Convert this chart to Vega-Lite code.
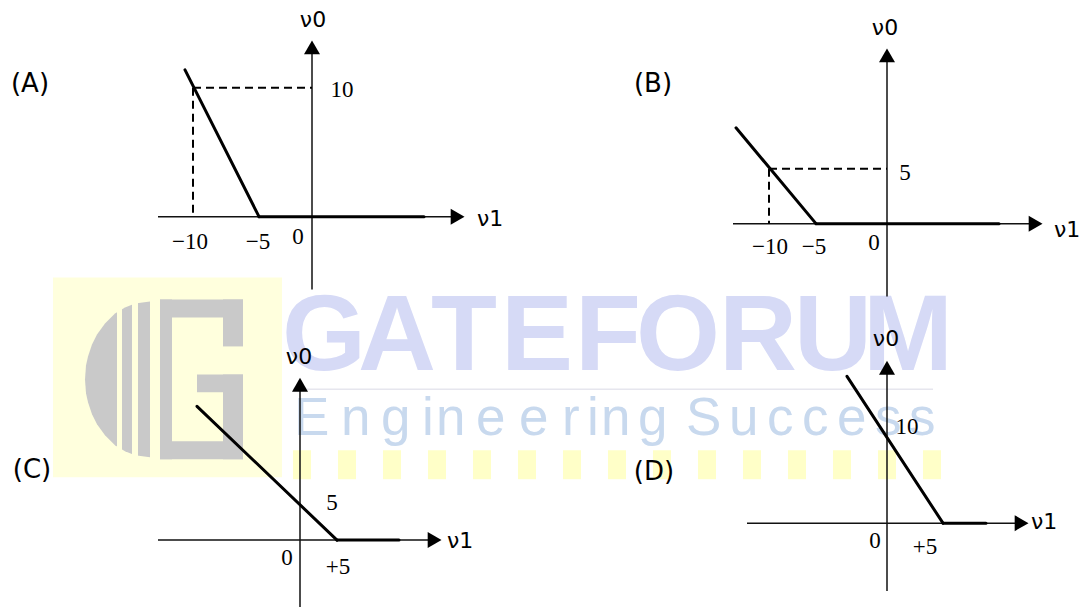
{
  "$schema": "https://vega.github.io/schema/vega-lite/v6.json",
  "width": 1091,
  "height": 608,
  "autosize": {"type": "fit", "contains": "padding"},
  "padding": 0,
  "background": "white",
  "config": {"view": {"stroke": null}},
  "datasets": {
    "bg": [
      {"x": 53, "x2": 282, "y": 278, "y2": 478, "c": "#FFFFDD"},
      {"x": 293, "x2": 311, "y": 451, "y2": 480, "c": "#FFFFC8"},
      {"x": 338, "x2": 356, "y": 451, "y2": 480, "c": "#FFFFC8"},
      {"x": 383, "x2": 401, "y": 451, "y2": 480, "c": "#FFFFC8"},
      {"x": 428, "x2": 446, "y": 451, "y2": 480, "c": "#FFFFC8"},
      {"x": 473, "x2": 491, "y": 451, "y2": 480, "c": "#FFFFC8"},
      {"x": 518, "x2": 536, "y": 451, "y2": 480, "c": "#FFFFC8"},
      {"x": 563, "x2": 581, "y": 451, "y2": 480, "c": "#FFFFC8"},
      {"x": 608, "x2": 626, "y": 451, "y2": 480, "c": "#FFFFC8"},
      {"x": 653, "x2": 671, "y": 451, "y2": 480, "c": "#FFFFC8"},
      {"x": 698, "x2": 716, "y": 451, "y2": 480, "c": "#FFFFC8"},
      {"x": 743, "x2": 761, "y": 451, "y2": 480, "c": "#FFFFC8"},
      {"x": 788, "x2": 806, "y": 451, "y2": 480, "c": "#FFFFC8"},
      {"x": 833, "x2": 851, "y": 451, "y2": 480, "c": "#FFFFC8"},
      {"x": 878, "x2": 896, "y": 451, "y2": 480, "c": "#FFFFC8"},
      {"x": 923, "x2": 941, "y": 451, "y2": 480, "c": "#FFFFC8"}
    ],
    "disc": [
      {"x": 85, "y": 380, "y2": 380},
      {"x": 86, "y": 366, "y2": 394},
      {"x": 88, "y": 357, "y2": 403},
      {"x": 92, "y": 345, "y2": 415},
      {"x": 97, "y": 335, "y2": 425},
      {"x": 105, "y": 324, "y2": 436},
      {"x": 115, "y": 314, "y2": 446},
      {"x": 125, "y": 308, "y2": 452},
      {"x": 135, "y": 304, "y2": 456},
      {"x": 150, "y": 302, "y2": 458}
    ],
    "logo": [
      {"x": 117, "x2": 122, "y": 290, "y2": 470, "c": "#FFFFDD"},
      {"x": 132, "x2": 138, "y": 290, "y2": 470, "c": "#FFFFDD"},
      {"x": 160, "x2": 172, "y": 300, "y2": 460, "c": "#C9C9C9"},
      {"x": 160, "x2": 243, "y": 300, "y2": 318, "c": "#C9C9C9"},
      {"x": 223, "x2": 243, "y": 300, "y2": 347, "c": "#C9C9C9"},
      {"x": 197, "x2": 243, "y": 375, "y2": 393, "c": "#C9C9C9"},
      {"x": 223, "x2": 243, "y": 375, "y2": 460, "c": "#C9C9C9"},
      {"x": 160, "x2": 243, "y": 442, "y2": 460, "c": "#C9C9C9"}
    ],
    "sep": [
      {"x": 293, "y": 390, "x2": 933, "y2": 390}
    ],
    "big": [
      {"x": 324, "y": 371, "t": "G"},
      {"x": 397, "y": 371, "t": "A"},
      {"x": 464, "y": 371, "t": "T"},
      {"x": 537, "y": 371, "t": "E"},
      {"x": 608, "y": 371, "t": "F"},
      {"x": 678, "y": 371, "t": "O"},
      {"x": 758, "y": 371, "t": "R"},
      {"x": 833, "y": 371, "t": "U"},
      {"x": 908, "y": 371, "t": "M"}
    ],
    "eng": [
      {"x": 294, "y": 436, "t": "E"},
      {"x": 341, "y": 436, "t": "n"},
      {"x": 381, "y": 436, "t": "g"},
      {"x": 422, "y": 436, "t": "i"},
      {"x": 436, "y": 436, "t": "n"},
      {"x": 476, "y": 436, "t": "e"},
      {"x": 519, "y": 436, "t": "e"},
      {"x": 562, "y": 436, "t": "r"},
      {"x": 587, "y": 436, "t": "i"},
      {"x": 601, "y": 436, "t": "n"},
      {"x": 638, "y": 436, "t": "g"},
      {"x": 686, "y": 436, "t": "S"},
      {"x": 729, "y": 436, "t": "u"},
      {"x": 767, "y": 436, "t": "c"},
      {"x": 802, "y": 436, "t": "c"},
      {"x": 837, "y": 436, "t": "e"},
      {"x": 875, "y": 436, "t": "s"},
      {"x": 909, "y": 436, "t": "s"}
    ],
    "axes": [
      {"x": 312, "y": 290, "x2": 312, "y2": 50},
      {"x": 158, "y": 217, "x2": 455, "y2": 217},
      {"x": 887, "y": 297, "x2": 887, "y2": 58},
      {"x": 733, "y": 224, "x2": 1033, "y2": 224},
      {"x": 300, "y": 608, "x2": 300, "y2": 388},
      {"x": 158, "y": 541, "x2": 432, "y2": 541},
      {"x": 887, "y": 592, "x2": 887, "y2": 371},
      {"x": 747, "y": 524, "x2": 1019, "y2": 524}
    ],
    "curves": [
      {"x": 185, "y": 70, "x2": 259, "y2": 217},
      {"x": 259, "y": 217, "x2": 424, "y2": 217},
      {"x": 736, "y": 128, "x2": 816, "y2": 224},
      {"x": 816, "y": 224, "x2": 999, "y2": 224},
      {"x": 197, "y": 407, "x2": 337, "y2": 541},
      {"x": 337, "y": 541, "x2": 399, "y2": 541},
      {"x": 847, "y": 377, "x2": 943, "y2": 524},
      {"x": 943, "y": 524, "x2": 986, "y2": 524}
    ],
    "dashes": [
      {"x": 193, "y": 88, "x2": 312, "y2": 88},
      {"x": 193, "y": 88, "x2": 193, "y2": 217},
      {"x": 769, "y": 169, "x2": 887, "y2": 169},
      {"x": 769, "y": 169, "x2": 769, "y2": 224}
    ],
    "up": [
      {"x": 312, "y": 47.4},
      {"x": 887, "y": 55.4},
      {"x": 300, "y": 385.4},
      {"x": 887, "y": 368.4}
    ],
    "right": [
      {"x": 457.6, "y": 217},
      {"x": 1035.6, "y": 224},
      {"x": 434.6, "y": 541},
      {"x": 1021.6, "y": 524}
    ],
    "tags": [
      {"x": 30, "y": 84, "t": "(A)"},
      {"x": 653, "y": 84, "t": "(B)"},
      {"x": 32, "y": 471, "t": "(C)"},
      {"x": 654, "y": 473, "t": "(D)"}
    ],
    "nu0": [
      {"x": 313, "y": 20, "t": "ν0"},
      {"x": 885, "y": 28, "t": "ν0"},
      {"x": 299, "y": 358, "t": "ν0"},
      {"x": 886, "y": 340, "t": "ν0"}
    ],
    "nu1": [
      {"x": 477, "y": 219, "t": "ν1"},
      {"x": 1054, "y": 230, "t": "ν1"},
      {"x": 447, "y": 542, "t": "ν1"},
      {"x": 1031, "y": 523, "t": "ν1"}
    ],
    "nums": [
      {"x": 342, "y": 90, "t": "10"},
      {"x": 190, "y": 242, "t": "−10"},
      {"x": 258, "y": 242, "t": "−5"},
      {"x": 298, "y": 237, "t": "0"},
      {"x": 905, "y": 173, "t": "5"},
      {"x": 770, "y": 247, "t": "−10"},
      {"x": 814, "y": 247, "t": "−5"},
      {"x": 874, "y": 243, "t": "0"},
      {"x": 332, "y": 504, "t": "5"},
      {"x": 287, "y": 559, "t": "0"},
      {"x": 338, "y": 568, "t": "+5"},
      {"x": 907, "y": 428, "t": "10"},
      {"x": 875, "y": 542, "t": "0"},
      {"x": 925, "y": 548, "t": "+5"}
    ]
  },
  "encoding": {
    "x": {"field": "x", "type": "quantitative", "scale": {"domain": [0, 1091], "nice": false, "zero": false}, "axis": null},
    "y": {"field": "y", "type": "quantitative", "scale": {"domain": [0, 608], "nice": false, "zero": false, "reverse": true}, "axis": null}
  },
  "layer": [
    {
      "data": {"name": "bg"},
      "mark": {"type": "rect"},
      "encoding": {
        "x2": {"field": "x2"},
        "y2": {"field": "y2"},
        "fill": {"field": "c", "type": "nominal", "scale": null}
      }
    },
    {
      "data": {"name": "disc"},
      "mark": {"type": "area", "color": "#C9C9C9"},
      "encoding": {"y2": {"field": "y2"}}
    },
    {
      "data": {"name": "logo"},
      "mark": {"type": "rect"},
      "encoding": {
        "x2": {"field": "x2"},
        "y2": {"field": "y2"},
        "fill": {"field": "c", "type": "nominal", "scale": null}
      }
    },
    {
      "data": {"name": "sep"},
      "mark": {"type": "rule", "color": "#E6E6EE", "strokeWidth": 1.5},
      "encoding": {"x2": {"field": "x2"}, "y2": {"field": "y2"}}
    },
    {
      "data": {"name": "big"},
      "mark": {"type": "text", "font": "Liberation Sans", "fontWeight": "bold", "fontSize": 108, "align": "center", "baseline": "alphabetic", "color": "#D6DAF6"},
      "encoding": {"text": {"field": "t"}}
    },
    {
      "data": {"name": "eng"},
      "mark": {"type": "text", "font": "Liberation Sans", "fontSize": 53, "align": "left", "baseline": "alphabetic", "color": "#C8D9EE"},
      "encoding": {"text": {"field": "t"}}
    },
    {
      "data": {"name": "axes"},
      "mark": {"type": "rule", "color": "#111111", "strokeWidth": 1.5},
      "encoding": {"x2": {"field": "x2"}, "y2": {"field": "y2"}}
    },
    {
      "data": {"name": "dashes"},
      "mark": {"type": "rule", "color": "#000000", "strokeWidth": 2, "strokeDash": [8, 5]},
      "encoding": {"x2": {"field": "x2"}, "y2": {"field": "y2"}}
    },
    {
      "data": {"name": "curves"},
      "mark": {"type": "rule", "color": "#000000", "strokeWidth": 3, "strokeCap": "round"},
      "encoding": {"x2": {"field": "x2"}, "y2": {"field": "y2"}}
    },
    {
      "data": {"name": "up"},
      "mark": {"type": "point", "shape": "triangle-up", "size": 256, "filled": true, "color": "#000000", "opacity": 1, "strokeWidth": 0}
    },
    {
      "data": {"name": "right"},
      "mark": {"type": "point", "shape": "triangle-right", "size": 256, "filled": true, "color": "#000000", "opacity": 1, "strokeWidth": 0}
    },
    {
      "data": {"name": "tags"},
      "mark": {"type": "text", "font": "DejaVu Sans", "fontSize": 26, "align": "center", "baseline": "middle", "color": "#000000"},
      "encoding": {"text": {"field": "t"}}
    },
    {
      "data": {"name": "nu0"},
      "mark": {"type": "text", "font": "DejaVu Sans", "fontSize": 22, "align": "center", "baseline": "middle", "color": "#000000"},
      "encoding": {"text": {"field": "t"}}
    },
    {
      "data": {"name": "nu1"},
      "mark": {"type": "text", "font": "DejaVu Sans", "fontSize": 22, "align": "left", "baseline": "middle", "color": "#000000"},
      "encoding": {"text": {"field": "t"}}
    },
    {
      "data": {"name": "nums"},
      "mark": {"type": "text", "font": "Liberation Serif", "fontSize": 23, "align": "center", "baseline": "middle", "color": "#000000"},
      "encoding": {"text": {"field": "t"}}
    }
  ]
}
